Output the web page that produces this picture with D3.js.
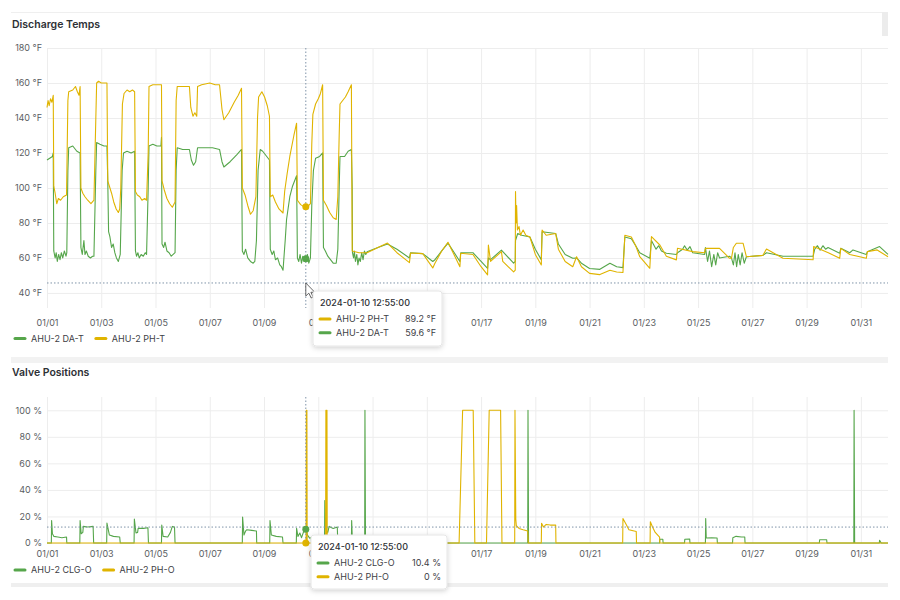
<!DOCTYPE html>
<html>
<head>
<meta charset="utf-8">
<script src="https://cdn.jsdelivr.net/npm/d3@7"></script>
<style>
  body { margin: 0; background: #fff; }
  svg { font-family: Inter, "Noto Sans", sans-serif; }
</style>
</head>
<body>
<svg id="chart" width="900" height="600"></svg>
<script>
// ---- data: [day offset from 2024-01-01 00:00, value] ----
var daTemp = [
  [0.00,116],[0.10,117],[0.20,118],[0.23,120],
  [0.25,64],[0.30,60],[0.34,63],[0.38,58],[0.43,62],[0.48,59],[0.53,63],[0.58,60],[0.64,64],[0.70,61],[0.73,63],
  [0.77,110],[0.80,123],[0.95,124],[1.10,121],[1.22,120],
  [1.25,66],[1.30,62],[1.36,70],[1.40,62],[1.45,64],[1.52,61],[1.60,60],[1.68,61],[1.73,61],
  [1.80,110],[1.83,126],[1.95,125],[2.10,124],[2.21,124],
  [2.24,104],[2.27,75],[2.32,72],[2.38,66],[2.44,68],[2.50,63],[2.56,60],[2.63,58],[2.70,62],
  [2.77,110],[2.82,120],[2.95,121],[3.10,120],[3.23,121],
  [3.26,64],[3.30,61],[3.35,63],[3.40,60],[3.47,62],[3.55,61],[3.62,63],[3.67,62],
  [3.73,100],[3.76,124],[3.90,125],[4.05,124],[4.20,124],[4.22,129],
  [4.24,68],[4.30,66],[4.35,69],[4.42,64],[4.50,63],[4.58,61],[4.65,62],[4.72,63],
  [4.76,110],[4.80,123],[5.00,122],[5.25,122],[5.32,116],[5.40,113],[5.48,115],[5.55,123],[5.80,123],[6.10,123],[6.36,122],[6.45,115],[6.52,112],[6.75,115],[7.00,119],[7.17,122],
  [7.20,64],[7.26,62],[7.32,65],[7.40,60],[7.50,58],[7.60,57],[7.66,58],[7.72,70],
  [7.78,110],[7.86,122],[7.95,121],[8.10,118],[8.20,116],
  [8.23,65],[8.30,62],[8.36,64],[8.42,59],[8.50,60],[8.58,56],[8.64,55],[8.70,53],
  [8.78,70],[8.83,82],[8.95,95],[9.05,101],[9.20,107],
  [9.23,60],[9.28,58],[9.33,62],[9.38,57],[9.43,61],[9.48,58],[9.54,59.6],[9.60,62],[9.65,57],[9.71,60],
  [9.76,90],[9.82,110],[9.90,117],[10.05,118],[10.16,120],
  [10.19,66],[10.26,64],[10.35,61],[10.45,59],[10.55,57],[10.66,57],[10.72,65],
  [10.77,100],[10.80,118],[10.97,118],[11.10,121],[11.22,122],
  [11.25,100],[11.26,63],[11.30,60],[11.33,64],[11.37,58],[11.42,62],[11.46,56],[11.50,60],[11.55,58],[11.60,63],[11.65,59],[11.70,64],[11.75,62],[11.80,63.5],
  [12.20,66],[12.55,68],[12.90,65],[13.36,60],[13.40,63],[13.85,62.5],[14.22,58],[14.30,59],[14.55,64],[14.78,68.5],
  [15.22,58],[15.25,63],[15.70,63],[16.00,58],[16.24,54],[16.27,60],[16.35,59],[16.75,64.5],[17.20,57],[17.26,58],
  [17.27,70],[17.35,74],[17.50,73],[17.80,72],[18.00,65],[18.22,59],[18.25,75],[18.75,74],[18.85,68],[19.10,62],
  [19.38,59.8],[19.52,60],[19.70,57],[20.00,54],[20.38,53.5],[20.75,57],[21.00,55],[21.23,54.5],
  [21.30,72],[21.54,71],[21.70,67],[21.85,63],[22.22,59.8],[22.28,70],[22.45,65],[22.55,67],[22.65,64],[22.83,62.7],
  [23.20,62],[23.24,63],[23.43,65],[23.50,67],[23.60,64.5],[23.70,66.5],[23.80,63],[24.24,62],
  [24.27,66],[24.35,58],[24.42,64],[24.50,55],[24.58,62],[24.65,56],[24.72,63],[24.79,60],
  [25.16,61],[25.23,60],[25.30,56],[25.36,63],[25.42,55],[25.48,62],[25.55,56],[25.62,63],[25.70,57],[25.78,60.7],
  [26.39,61.5],[26.52,63],[27.13,61],[28.24,61],[28.30,65],[28.40,67],[28.50,64.5],[28.60,67],[28.70,65],[28.79,66],
  [29.22,62.7],[29.26,65.5],[29.59,63],[29.71,64.6],[30.20,62],[30.24,63.6],[30.69,66.5],[31.00,62]
];

var phTemp = [
  [0.00,146],[0.04,150],[0.08,147],[0.13,151],[0.18,149],[0.23,153],
  [0.25,101],[0.30,97],[0.36,91],[0.42,94],[0.50,93],[0.60,95],[0.72,96],
  [0.77,150],[0.80,155],[0.95,156],[1.05,158],[1.12,155],[1.18,153],[1.22,158],
  [1.25,100],[1.32,97],[1.40,95],[1.50,93],[1.62,91],[1.73,93],
  [1.80,140],[1.83,160],[1.90,161],[2.00,160],[2.21,160],
  [2.24,104],[2.30,101],[2.38,97],[2.46,92],[2.55,88],[2.63,86],[2.68,88],[2.72,100],
  [2.78,148],[2.84,154],[2.95,156],[3.05,155],[3.15,156],[3.23,155],
  [3.26,98],[3.33,96],[3.42,95],[3.50,93],[3.60,94],[3.67,93],
  [3.73,120],[3.76,158],[3.90,159],[4.05,159],[4.22,159],
  [4.24,104],[4.32,99],[4.42,94],[4.52,91],[4.62,89],[4.72,92],
  [4.76,150],[4.80,158],[5.00,158],[5.25,158],[5.30,146],[5.38,141],[5.45,143],[5.52,141],[5.55,158],[5.70,159],[6.00,160],[6.20,159],[6.36,159],
  [6.45,145],[6.52,139],[6.70,143],[6.90,149],[7.05,153],[7.17,157],
  [7.20,100],[7.30,96],[7.40,90],[7.50,85],[7.60,87],[7.70,95],
  [7.76,140],[7.80,152],[7.92,155],[8.02,152],[8.12,147],[8.20,141],
  [8.23,95],[8.32,96],[8.42,92],[8.55,88],[8.70,85.7],
  [8.76,98],[8.85,108],[8.95,118],[9.10,130],[9.20,137],
  [9.23,93],[9.35,90.5],[9.45,89.5],[9.54,89.2],[9.65,90],[9.71,91],
  [9.76,125],[9.80,142],[9.90,148],[10.00,151],[10.08,154],[10.16,159],
  [10.19,93],[10.30,90],[10.42,86],[10.55,83],[10.66,82],[10.72,95],
  [10.77,130],[10.80,148],[10.90,150],[11.00,152],[11.10,155],[11.22,159],
  [11.25,64],[11.50,63],[11.80,63],[12.20,66],[12.55,68.5],[12.90,63],[13.36,57.3],[13.40,62.8],[13.85,62.5],
  [14.22,54.3],[14.30,57],[14.55,64],[14.78,69],[15.22,55],[15.25,62.7],[15.70,62],[16.00,55],[16.24,50.3],
  [16.27,67.4],[16.35,58],[16.75,63.6],[16.80,58],[17.20,52],[17.26,53],
  [17.27,98],[17.29,80],[17.31,90],[17.34,76],[17.40,78],[17.45,73],[17.55,76],[17.65,73],[17.80,72],
  [18.00,62],[18.22,56],[18.25,76],[18.40,73],[18.75,74],[18.85,65],[19.10,58],[19.38,55],[19.52,60.7],
  [19.70,55],[20.00,51.2],[20.38,50.5],[20.75,53],[21.00,52],[21.23,51.7],
  [21.30,73],[21.54,72],[21.70,67],[21.85,60.7],[22.22,54.1],[22.28,72.2],[22.59,67.4],[22.83,61],[23.20,58.9],
  [23.24,65.5],[23.80,63.6],[24.24,63],[24.27,65.5],[24.79,65.5],[25.16,59.8],[25.23,59.8],[25.30,66],
  [25.41,68.4],[25.66,68.4],[25.78,60.7],[26.39,61.5],[26.52,65.1],[27.13,59.8],[28.24,59],[28.26,66.5],
  [28.80,63],[29.22,59.8],[29.26,65.5],[29.59,62],[30.20,59.8],[30.24,63.6],[30.60,64.6],[31.00,60.7]
];

var clgPos = [
  [0,0],[0.16,0],[0.17,17],[0.20,7],[0.25,5],[0.40,4.5],[0.55,4],[0.72,4.5],[0.73,0],
  [1.21,0],[1.22,17],[1.26,7],[1.32,8],[1.34,12.5],[1.50,12],[1.70,12.5],[1.72,0],
  [2.20,0],[2.21,15],[2.30,6],[2.45,5],[2.68,4.5],[2.70,0],
  [3.21,0],[3.22,18],[3.28,7.5],[3.34,8],[3.36,11],[3.55,11],[3.72,11.5],[3.74,0],
  [4.22,0],[4.23,13.5],[4.28,5],[4.45,4.5],[4.55,8],[4.62,12.5],[4.70,12],[4.72,0],
  [7.20,0],[7.21,19.5],[7.26,6],[7.32,9],[7.36,10],[7.55,9.5],[7.72,9],[7.73,0],
  [8.21,0],[8.22,17],[8.27,6],[8.45,5],[8.68,4.5],[8.70,0],
  [9.19,0],[9.20,11],[9.25,5],[9.32,7.5],[9.38,4],[9.45,8],[9.54,10.4],[9.60,6],[9.68,3.7],[9.74,4],[9.75,0],
  [10.23,0],[10.24,32],[10.28,10],[10.35,8],[10.40,12.5],[10.55,11],[10.70,12],[10.72,0],
  [11.22,0],[11.23,17],[11.26,0],
  [11.71,0],[11.72,100],[11.74,0],
  [17.72,0],[17.73,100],[17.75,0],
  [22.58,0],[22.59,2.8],[22.70,2.8],[22.71,0],
  [23.50,0],[23.51,2.8],[23.69,3],[23.70,0],
  [24.27,0],[24.28,18.5],[24.30,3.8],[24.50,4],[24.70,3.8],[24.71,0],
  [25.27,0],[25.28,4],[25.40,5],[25.60,4.5],[25.72,4.5],[25.73,0],
  [28.47,0],[28.48,2.5],[28.74,2.5],[28.75,0],
  [29.74,0],[29.75,100],[29.77,0],
  [30.68,0],[30.69,2],[30.75,0],[31,0]
];

var phPos = [
  [0,0],[9.55,0],[9.56,100],[9.58,100],[9.59,0],
  [10.27,0],[10.28,100],[10.30,100],[10.31,0],[10.32,100],[10.33,0],
  [15.19,0],[15.32,100],[15.71,100],[15.77,0],
  [16.20,0],[16.30,100],[16.72,100],[16.77,0],
  [17.24,0],[17.25,100],[17.28,18],[17.30,13],[17.40,11],[17.55,10],[17.72,9],[17.74,0],
  [18.22,0],[18.23,14.8],[18.30,12],[18.40,14],[18.55,13.5],[18.75,13.5],[18.76,0],
  [21.22,0],[21.23,18.5],[21.35,14],[21.45,10],[21.72,8.7],[21.73,0],
  [22.23,0],[22.24,16],[22.32,12],[22.42,8],[22.58,4.5],[22.59,0],
  [31,0]
];

var tempTicks = [40, 60, 80, 100, 120, 140, 160, 180];
var posTicks = [0, 20, 40, 60, 80, 100];

// hover state
var hoverDay = 9.54;
var hoverLabel = "2024-01-10 12:55:00";
var hoverTempCursor = 45.7, hoverPosCursor = 12;

var GREEN = "#56A64B", YELLOW = "#E0B400";

var svg = d3.select("#chart");
var T0 = new Date(2024, 0, 1);
var toDate = d => new Date(T0.getTime() + d * 864e5);
var x = d3.scaleTime().domain([T0, new Date(2024, 1, 1)]).range([47, 888]);
var xTicks = d3.timeDay.every(2).range(T0, new Date(2024, 1, 1));

// panel frame bits
svg.append("line").attr("x1", 11).attr("x2", 888).attr("y1", 12.5).attr("y2", 12.5).attr("stroke", "#efefef");
svg.append("rect").attr("x", 882).attr("y", 12).attr("width", 6).attr("height", 24).attr("fill", "#ececec");
svg.append("rect").attr("x", 11).attr("y", 357).attr("width", 877).attr("height", 6).attr("fill", "#f2f2f2");
svg.append("rect").attr("x", 11).attr("y", 583).attr("width", 877).attr("height", 4).attr("fill", "#efefef");

var defs = svg.append("defs");
var f = defs.append("filter").attr("id", "shadow").attr("x", "-20%").attr("y", "-20%").attr("width", "140%").attr("height", "150%");
f.append("feDropShadow").attr("dx", 0).attr("dy", 1.5).attr("stdDeviation", 2.5).attr("flood-color", "#000").attr("flood-opacity", 0.18);

function styleAxis(g) {
  g.select(".domain").remove();
  g.selectAll(".tick line").attr("stroke", "#ededed");
  g.selectAll(".tick text").attr("fill", "#5a5d62").attr("font-size", 9).attr("font-family", "Inter, sans-serif");
}

function panel(cfg) {
  var g = svg.append("g");
  g.append("text").attr("x", 12).attr("y", cfg.titleY).text(cfg.title)
    .attr("font-size", 10.5).attr("font-weight", 600).attr("fill", "#2d3035");

  g.append("g").attr("transform", "translate(0," + cfg.bottom + ")")
    .call(d3.axisBottom(x).tickValues(xTicks).tickFormat(d3.timeFormat("%m/%d"))
      .tickSize(-(cfg.bottom - cfg.top)).tickPadding(cfg.xPad))
    .call(styleAxis);

  g.append("g").attr("transform", "translate(47,0)")
    .call(d3.axisLeft(cfg.y).tickValues(cfg.ticks).tickFormat(cfg.fmt)
      .tickSize(-(888 - 47)).tickPadding(5))
    .call(styleAxis);

  var line = d3.line().x(d => x(toDate(d[0]))).y(d => cfg.y(d[1]));
  cfg.series.forEach(s => {
    g.append("path").datum(s.data).attr("d", line)
      .attr("fill", "none").attr("stroke", s.color).attr("stroke-width", 1.1)
      .attr("stroke-linejoin", "round");
  });

  // crosshair
  var hx = x(toDate(hoverDay));
  g.append("line").attr("x1", hx).attr("x2", hx).attr("y1", cfg.top).attr("y2", cfg.bottom)
    .attr("stroke", "#7f93a8").attr("stroke-dasharray", "1.5,2");
  var cy = cfg.y(cfg.cursor);
  g.append("line").attr("x1", 47).attr("x2", 888).attr("y1", cy).attr("y2", cy)
    .attr("stroke", "#7f93a8").attr("stroke-dasharray", "1.5,2");
  cfg.series.forEach(s => {
    g.append("circle").attr("cx", hx).attr("cy", cfg.y(s.hover)).attr("r", 3.5).attr("fill", s.color);
  });

  // legend
  var lx = 15;
  cfg.series.forEach(s => {
    g.append("line").attr("x1", lx).attr("x2", lx + 10).attr("y1", cfg.legendY).attr("y2", cfg.legendY)
      .attr("stroke", s.color).attr("stroke-width", 3).attr("stroke-linecap", "round");
    var t = g.append("text").attr("x", lx + 16).attr("y", cfg.legendY + 3.2).text(s.name)
      .attr("font-size", 9).attr("fill", "#3d4045");
    lx += 16 + t.node().getComputedTextLength() + 12;
  });
  return g;
}

function tooltip(box, rows) {
  var g = svg.append("g");
  g.append("rect").attr("x", box.x).attr("y", box.y).attr("width", box.w).attr("height", box.h)
    .attr("rx", 3).attr("fill", "#fff").attr("stroke", "#e6e6e6").attr("filter", "url(#shadow)");
  g.append("text").attr("x", box.x + 7).attr("y", box.y + 15).text(hoverLabel)
    .attr("font-size", 9).attr("font-weight", 500).attr("fill", "#2d3035");
  rows.forEach((r, i) => {
    var ry = box.y + 28 + i * 13.7;
    g.append("line").attr("x1", box.x + 7).attr("x2", box.x + 17).attr("y1", ry).attr("y2", ry)
      .attr("stroke", r.color).attr("stroke-width", 3).attr("stroke-linecap", "round");
    g.append("text").attr("x", box.x + 23).attr("y", ry + 3.2).text(r.name)
      .attr("font-size", 9).attr("fill", "#3d4045");
    g.append("text").attr("x", box.x + box.w - 6).attr("y", ry + 3.2).text(r.value)
      .attr("text-anchor", "end").attr("font-size", 9).attr("fill", "#3d4045");
  });
}

// Discharge Temps
var yT = d3.scaleLinear().domain([31.4, 180]).range([308, 48]);
panel({
  title: "Discharge Temps", titleY: 27.5, top: 48, bottom: 308, xPad: 11.5,
  y: yT, ticks: tempTicks, fmt: d => d + " °F", cursor: hoverTempCursor, legendY: 338.5,
  series: [
    { name: "AHU-2 DA-T", color: GREEN, data: daTemp, hover: 59.6 },
    { name: "AHU-2 PH-T", color: YELLOW, data: phTemp, hover: 89.2 }
  ]
});

// Valve Positions
var yP = d3.scaleLinear().domain([0, 110]).range([543, 397]);
panel({
  title: "Valve Positions", titleY: 375.5, top: 397, bottom: 543, xPad: 7.8,
  y: yP, ticks: posTicks, fmt: d => d + " %", cursor: hoverPosCursor, legendY: 570,
  series: [
    { name: "AHU-2 CLG-O", color: GREEN, data: clgPos, hover: 10.4 },
    { name: "AHU-2 PH-O", color: YELLOW, data: phPos, hover: 0 }
  ]
});

// mouse pointer
var hx = x(toDate(hoverDay));
svg.append("path")
  .attr("transform", "translate(" + hx + "," + yT(hoverTempCursor) + ")")
  .attr("d", "M0,0 L0,13 L3,10.2 L5.4,15 L7.4,14 L5.1,9.3 L9,9.3 Z")
  .attr("fill", "#fff").attr("stroke", "#444").attr("stroke-width", 0.8);

tooltip({ x: 313, y: 291, w: 129, h: 55 }, [
  { name: "AHU-2 PH-T", color: YELLOW, value: "89.2 °F" },
  { name: "AHU-2 DA-T", color: GREEN, value: "59.6 °F" }
]);
tooltip({ x: 311, y: 535, w: 136, h: 54 }, [
  { name: "AHU-2 CLG-O", color: GREEN, value: "10.4 %" },
  { name: "AHU-2 PH-O", color: YELLOW, value: "0 %" }
]);
</script>
</body>
</html>
